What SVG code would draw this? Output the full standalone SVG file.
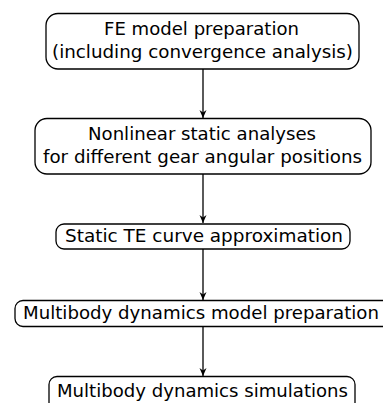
<svg xmlns="http://www.w3.org/2000/svg" width="383" height="403" viewBox="0 0 383 403">
  <style>
    .box { fill: #ffffff; stroke: #000000; stroke-width: 1.3; }
    .lbl { font-family: "DejaVu Sans", Verdana, sans-serif; font-size: 17px; fill: #000000; text-anchor: middle; }
    .edge { stroke: #000000; stroke-width: 1.3; fill: none; marker-end: url(#arrow); }
  </style>
  <defs>
    <marker id="arrow" viewBox="0 0 8 12" refX="8" refY="4" markerWidth="8" markerHeight="12" markerUnits="userSpaceOnUse" orient="auto">
      <path d="M0,0.5 L8,4 L0,7.5 L2.5,4 Z" fill="#000000"/>
    </marker>
  </defs>
  <rect width="383" height="403" fill="#ffffff"/>

  <g id="connectors">
    <line class="edge" x1="203" y1="69" x2="203" y2="118"/>
    <line class="edge" x1="203" y1="174" x2="203" y2="223"/>
    <line class="edge" x1="203" y1="249" x2="203" y2="300"/>
    <line class="edge" x1="203" y1="326" x2="203" y2="376"/>
  </g>

  <g id="fe-model">
    <rect class="box" x="46" y="13.5" width="313" height="55.5" rx="12"/>
    <text class="lbl" x="201.5" y="34.5" textLength="195" lengthAdjust="spacingAndGlyphs">FE model preparation</text>
    <text class="lbl" x="202.5" y="58" textLength="301" lengthAdjust="spacingAndGlyphs">(including convergence analysis)</text>
  </g>

  <g id="static-analyses">
    <rect class="box" x="35" y="118.5" width="336" height="55.5" rx="12"/>
    <text class="lbl" x="202" y="140" textLength="228" lengthAdjust="spacingAndGlyphs">Nonlinear static analyses</text>
    <text class="lbl" x="202.5" y="163" textLength="319" lengthAdjust="spacingAndGlyphs">for different gear angular positions</text>
  </g>

  <g id="te-curve">
    <rect class="box" x="56" y="224" width="294" height="25" rx="8"/>
    <text class="lbl" x="204" y="242" textLength="278" lengthAdjust="spacingAndGlyphs">Static TE curve approximation</text>
  </g>

  <g id="mbd-model">
    <rect class="box" x="15" y="300.5" width="380" height="26" rx="8"/>
    <text class="lbl" x="201" y="319" textLength="356" lengthAdjust="spacingAndGlyphs">Multibody dynamics model preparation</text>
  </g>

  <g id="mbd-sim">
    <rect class="box" x="49" y="376.5" width="306" height="34" rx="8"/>
    <text class="lbl" x="202.5" y="397" textLength="291" lengthAdjust="spacingAndGlyphs">Multibody dynamics simulations</text>
  </g>
</svg>
